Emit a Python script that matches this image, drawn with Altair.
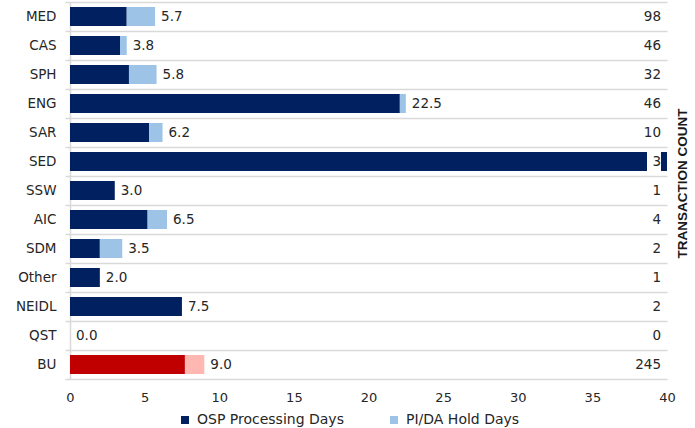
import altair as alt
import pandas as pd

categories = ["MED", "CAS", "SPH", "ENG", "SAR", "SED", "SSW", "AIC", "SDM", "Other", "NEIDL", "QST", "BU"]
osp_days = [3.8, 3.35, 3.95, 22.1, 5.3, 42.0, 3.0, 5.2, 2.0, 2.0, 7.5, 0.0, 7.7]
hold_days = [1.9, 0.45, 1.85, 0.4, 0.9, 0.0, 0.0, 1.3, 1.5, 0.0, 0.0, 0.0, 1.3]
counts = [98, 46, 32, 46, 10, 3, 1, 4, 2, 1, 2, 0, 245]

series_names = ["OSP Processing Days", "PI/DA Hold Days", "BU OSP", "BU Hold"]
series_colors = ["#002060", "#9DC3E6", "#C00000", "#FFB7B2"]

rows = []
for c, o, h in zip(categories, osp_days, hold_days):
    is_bu = c == "BU"
    rows.append({"cat": c, "series": "BU OSP" if is_bu else "OSP Processing Days", "val": o, "ord": 0})
    rows.append({"cat": c, "series": "BU Hold" if is_bu else "PI/DA Hold Days", "val": h, "ord": 1})
long_df = pd.DataFrame(rows)

summary = pd.DataFrame({
    "cat": categories,
    "total": [round(o + h, 1) for o, h in zip(osp_days, hold_days)],
    "count": counts,
})

yenc = alt.Y("cat:N", sort=categories, title=None,
             scale=alt.Scale(paddingInner=0, paddingOuter=0),
             axis=alt.Axis(tickBand="extent", grid=True, gridColor="#d9d9d9", gridWidth=1.5,
                           domainColor="#d9d9d9", domainWidth=1.5, tickColor="#d9d9d9", tickWidth=1.5,
                           tickSize=5, labelPadding=9, labelFontSize=13.5, labelColor="#262626"))

xscale = alt.Scale(domain=[0, 40], nice=False, clamp=False)

bars = alt.Chart(long_df).mark_bar(size=19, clip=True).encode(
    x=alt.X("val:Q", stack="zero", scale=xscale, title=None,
            axis=alt.Axis(values=[0, 5, 10, 15, 20, 25, 30, 35, 40], grid=False, domain=False,
                          ticks=False, labelFlush=False, labelPadding=12, labelFontSize=13,
                          labelColor="#262626")),
    y=yenc,
    color=alt.Color("series:N", scale=alt.Scale(domain=series_names, range=series_colors),
                    legend=alt.Legend(values=["OSP Processing Days", "PI/DA Hold Days"], title=None,
                                      orient="none", legendX=108, legendY=411, direction="horizontal",
                                      symbolType="square", symbolSize=64, symbolStrokeWidth=0,
                                      labelFontSize=14, labelColor="#262626", columnPadding=43,
                                      labelOffset=5)),
    order=alt.Order("ord:Q"),
)

# value labels (the SED label lies beyond the 40-day axis end and is hidden, as in the original)
value_labels = alt.Chart(summary).transform_filter("datum.total <= 40").mark_text(
    align="left", baseline="middle", dx=6, fontSize=13.5, color="#262626", clip=True).encode(
    x=alt.X("total:Q", scale=xscale),
    y=alt.Y("cat:N", sort=categories),
    text=alt.Text("total:Q", format=".1f"),
)

count_bg = alt.Chart(summary).mark_bar(size=19, color="white").encode(
    x=alt.value(577), x2=alt.value(591),
    y=alt.Y("cat:N", sort=categories),
)

count_labels = alt.Chart(summary).mark_text(align="right", baseline="middle", fontSize=13.5,
                                            color="#262626").encode(
    x=alt.value(591),
    y=alt.Y("cat:N", sort=categories),
    text=alt.Text("count:Q"),
)

side_title = alt.Chart(pd.DataFrame({"t": ["TRANSACTION COUNT"]})).mark_text(
    angle=270, font="Liberation Sans", fontWeight="bold", fontSize=13.5, color="#1a1a1a",
    align="center", baseline="middle").encode(
    x=alt.value(613), y=alt.value(181.5), text="t:N")

chart = alt.layer(bars, count_bg, count_labels, value_labels, side_title).properties(
    width=597, height=377,
    autosize=alt.AutoSizeParams(type="none"),
    padding={"left": 70, "top": 2, "right": 28, "bottom": 49},
).configure(font="DejaVu Sans").configure_view(stroke=None)

chart.save("out.html", embed_options={"renderer": "svg", "actions": False})
